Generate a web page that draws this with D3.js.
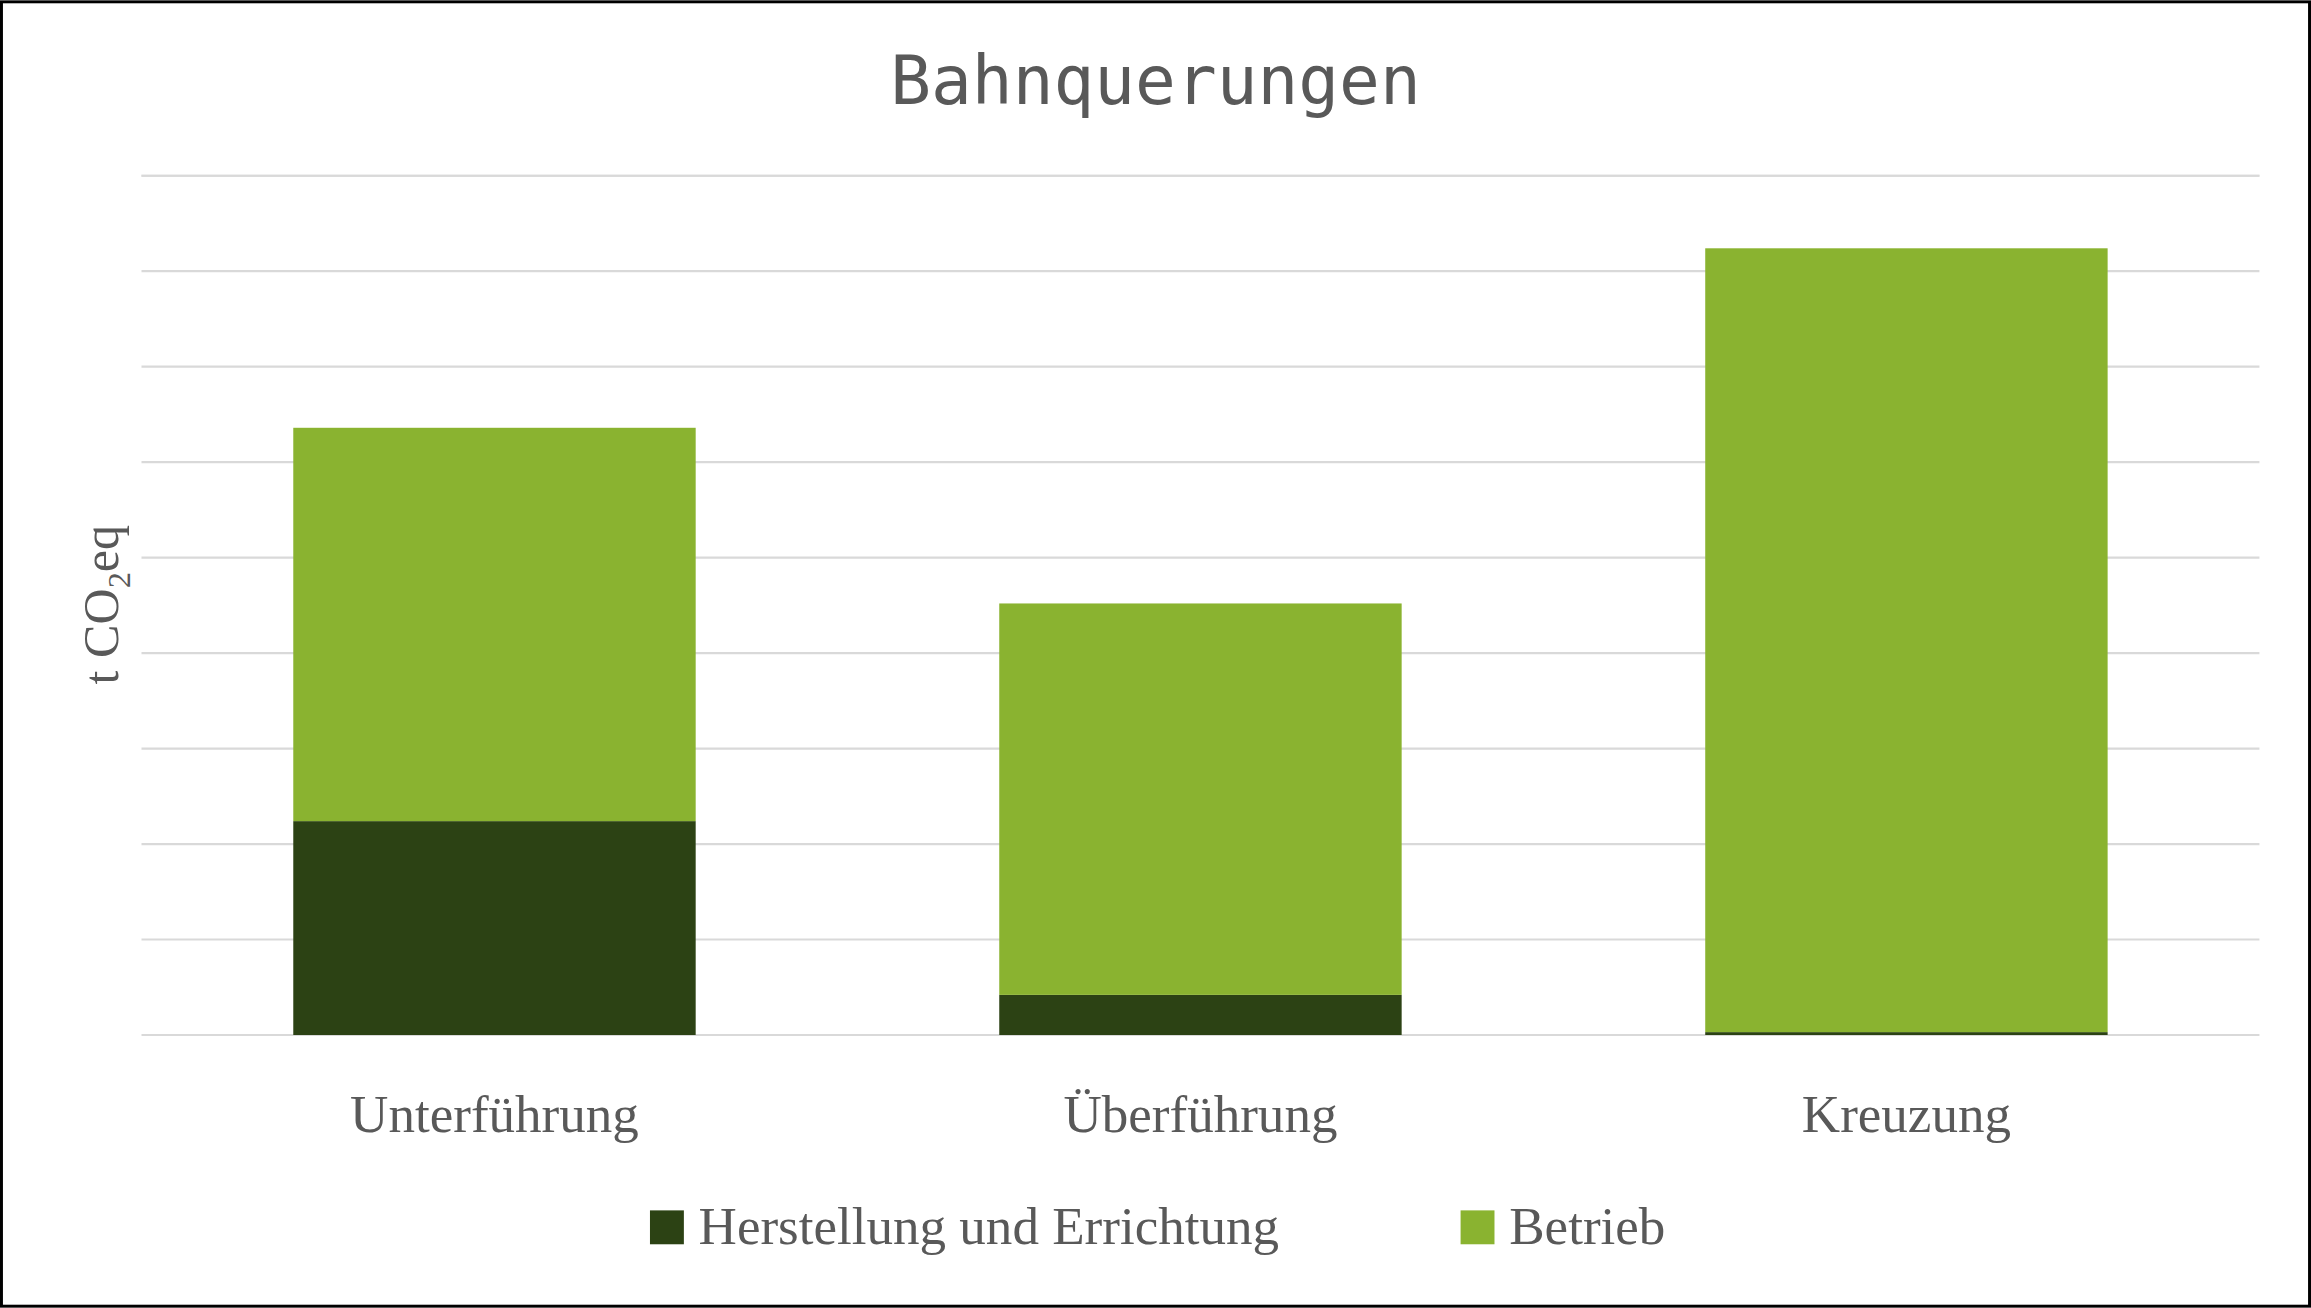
<!DOCTYPE html>
<html><head><meta charset="utf-8">
<script src="https://cdn.jsdelivr.net/npm/d3@7"></script>
<style>body{margin:0;background:#fff}svg{display:block}</style>
</head><body>
<svg width="2311" height="1308" viewBox="0 0 1568 887"></svg>
<script>
const categories = ["Unterführung", "Überführung", "Kreuzung"];
const herstellung = [2.24, 0.42, 0.03];
const betrieb = [4.12, 4.10, 8.21];
const seriesNames = ["Herstellung und Errichtung", "Betrieb"];
const colors = ["#2c4214", "#8ab330"];
const yTicks = d3.range(0, 10);

const svg = d3.select("svg");
const W = 1568, H = 887;
const m = {left: 96, right: 35, top: 119, bottom: 185};

svg.append("rect").attr("x", 1).attr("y", 1).attr("width", W - 2).attr("height", H - 2)
    .attr("fill", "#fff").attr("stroke", "#000").attr("stroke-width", 2);

const x = d3.scaleBand().domain(categories).range([m.left, W - m.right]).paddingInner(0.43).paddingOuter(0.215);
const y = d3.scaleLinear().domain([0, 9]).range([H - m.bottom, m.top]);

// --- GRID ---
svg.append("g").selectAll("line").data(yTicks.concat([9])).join("line")
    .attr("x1", m.left).attr("x2", W - m.right)
    .attr("y1", d => y(d)).attr("y2", d => y(d))
    .attr("stroke", "#d9d9d9").attr("stroke-width", 1.5);

// --- STACKED BARS ---
const rows = categories.map((c, i) => ({cat: c, h: herstellung[i], b: betrieb[i]}));
const stack = d3.stack().keys(["h", "b"])(rows);
svg.append("g").selectAll("g").data(stack).join("g")
    .attr("fill", (d, i) => colors[i])
    .selectAll("rect").data(d => d).join("rect")
    .attr("x", d => x(d.data.cat)).attr("width", x.bandwidth())
    .attr("y", d => y(d[1])).attr("height", d => y(d[0]) - y(d[1]));

// --- CATEGORY LABELS ---
svg.append("g").selectAll("text").data(categories).join("text")
    .attr("x", d => x(d) + x.bandwidth() / 2).attr("y", 768)
    .attr("text-anchor", "middle").attr("fill", "#595959")
    .style("font", "36px 'Liberation Serif', serif").text(d => d);

// --- TITLE ---
svg.append("text").attr("x", W / 2).attr("y", 70).attr("text-anchor", "middle")
    .attr("fill", "#595959").style("font", "46px 'DejaVu Sans Mono', monospace")
    .text("Bahnquerungen");

// --- Y LABEL ---
const yl = svg.append("text").attr("transform", "translate(80,410) rotate(-90)")
    .attr("text-anchor", "middle").attr("fill", "#595959")
    .style("font", "34px 'Liberation Serif', serif");
yl.append("tspan").text("t CO");
yl.append("tspan").attr("font-size", 22).attr("dy", 8).text("2");
yl.append("tspan").attr("dy", -8).text("eq");

// --- LEGEND ---
const leg = svg.append("g").selectAll("g").data(seriesNames).join("g")
    .attr("transform", (d, i) => `translate(${[441, 991][i]},821)`);
leg.append("rect").attr("width", 23).attr("height", 23).attr("fill", (d, i) => colors[i]);
leg.append("text").attr("x", 33).attr("y", 23).attr("fill", "#595959")
    .style("font", "36px 'Liberation Serif', serif").text(d => d);
</script>
</body></html>
